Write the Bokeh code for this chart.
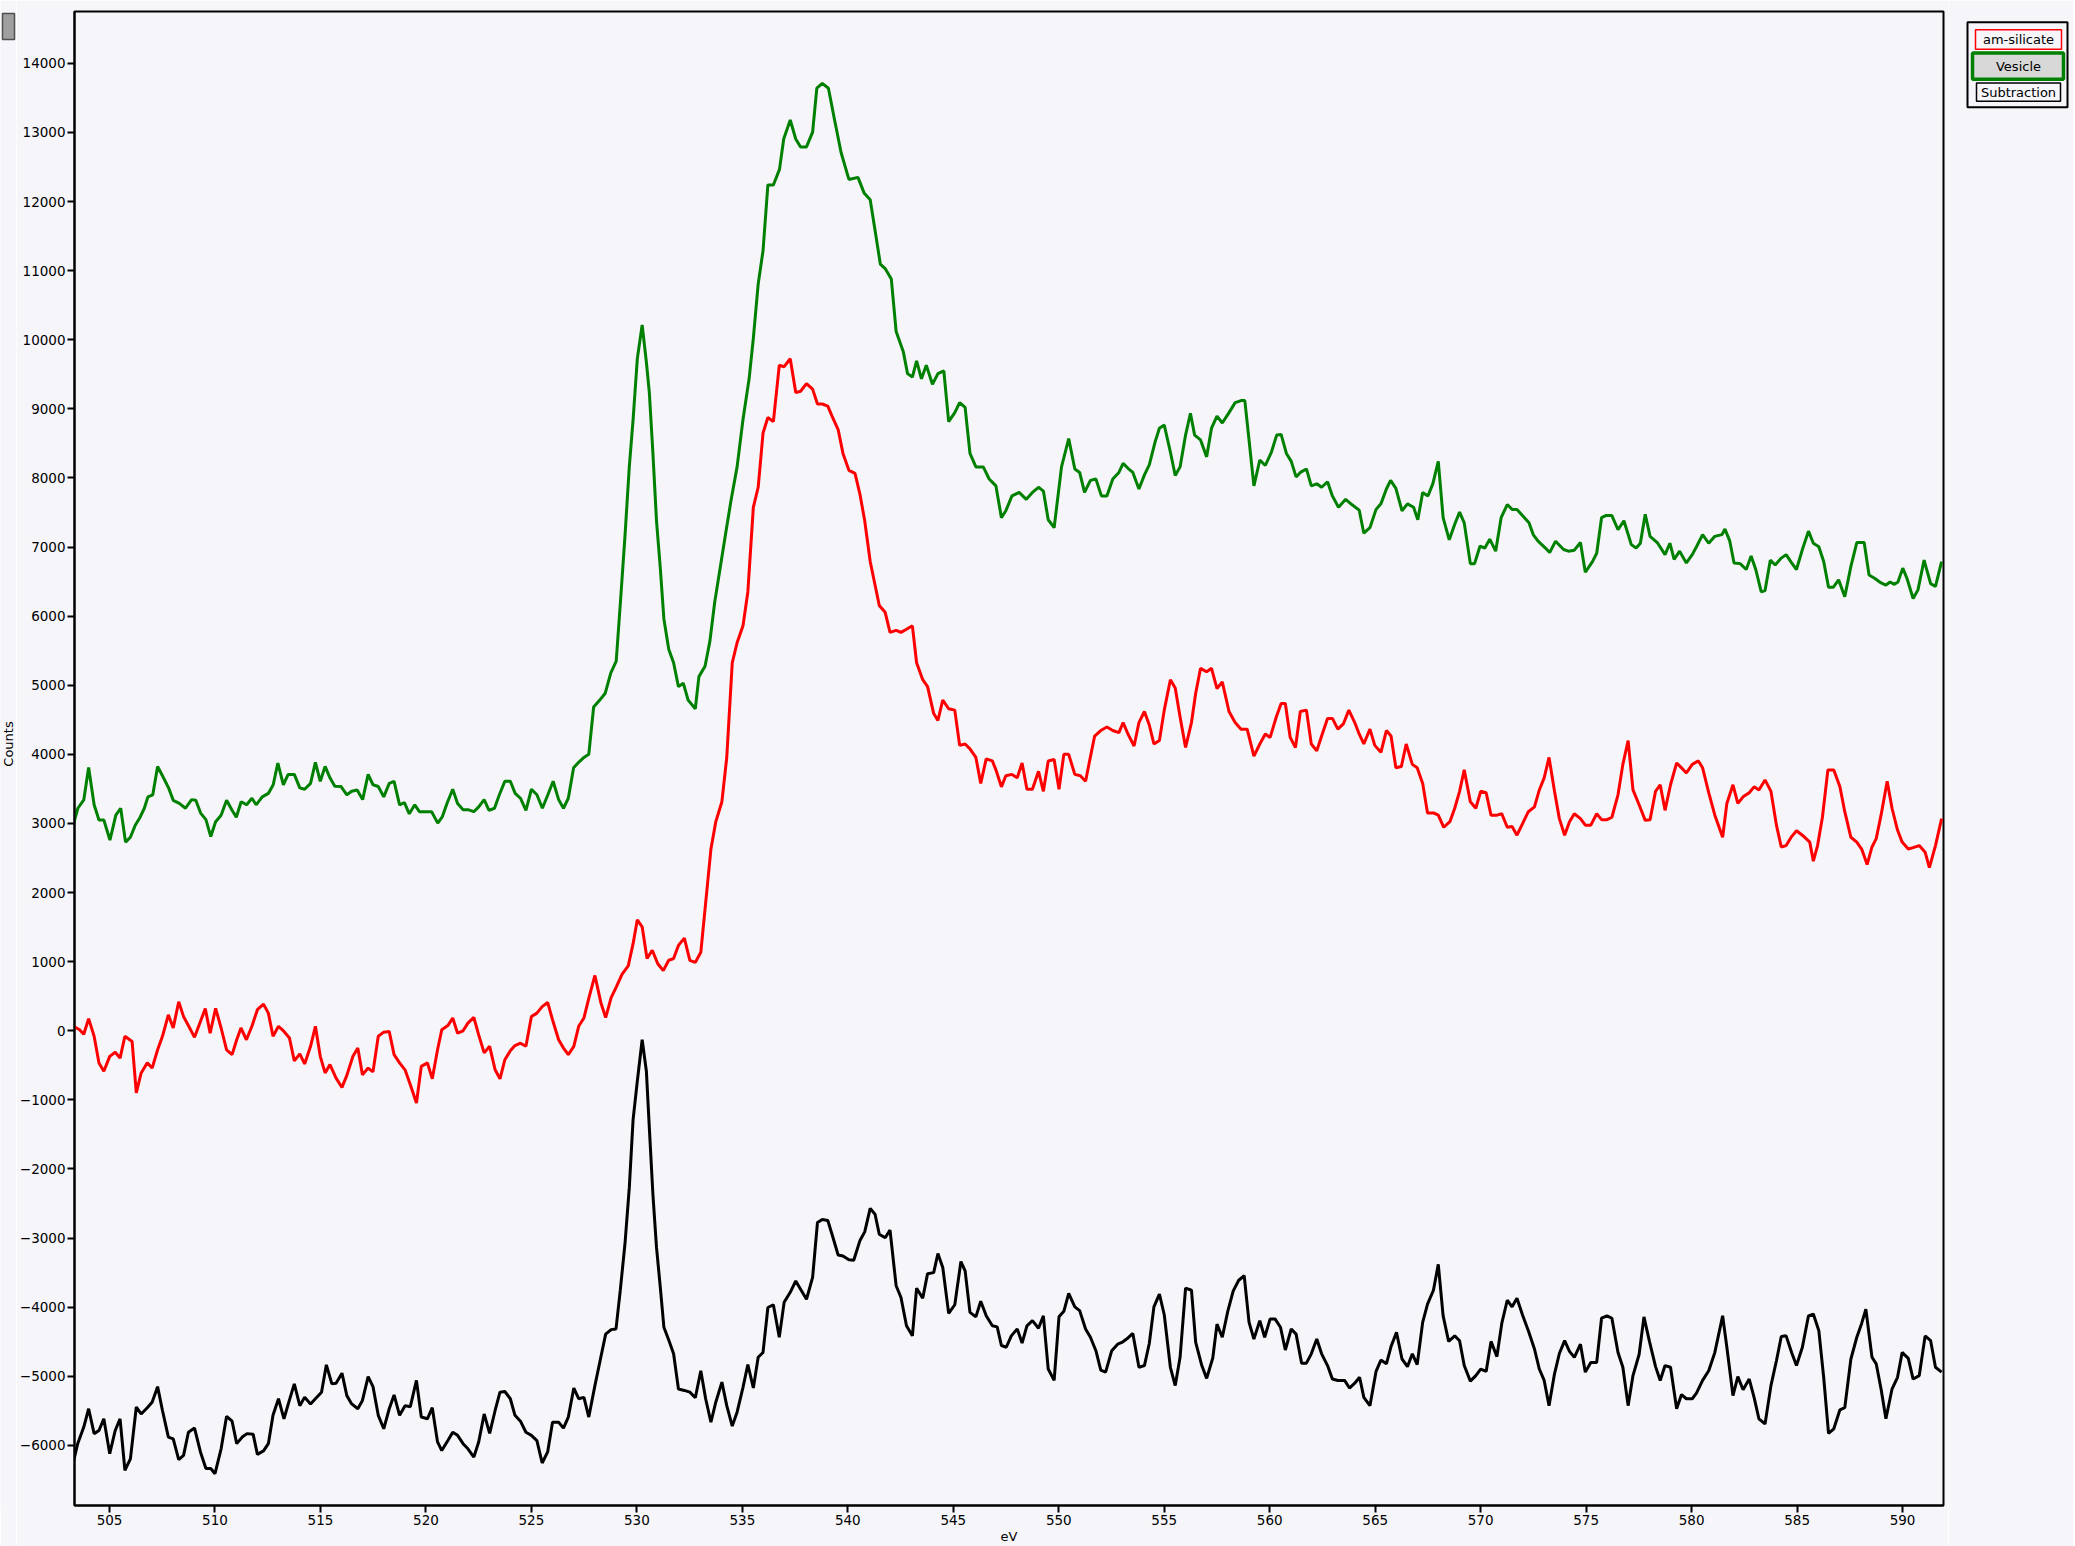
from bokeh.plotting import figure
from bokeh.layouts import row
from bokeh.models import Range1d, FixedTicker
from bokeh.embed import file_html
from bokeh.resources import INLINE
from bokeh.core.properties import value
import math

# ---------------- data ----------------
series_names = ["am-silicate", "Vesicle", "Subtraction"]
x_ticks = [505, 510, 515, 520, 525, 530, 535, 540, 545, 550, 555, 560, 565, 570, 575, 580, 585, 590]
y_ticks = [-6000, -5000, -4000, -3000, -2000, -1000, 0, 1000, 2000, 3000, 4000, 5000, 6000,
           7000, 8000, 9000, 10000, 11000, 12000, 13000, 14000]

green_ev = [
    503.30, 503.50, 503.78, 504.01, 504.27, 504.50, 504.73, 505.02, 505.30, 505.53,
    505.76, 505.99, 506.22, 506.45, 506.65, 506.82, 507.05, 507.28, 507.51, 507.80,
    508.02, 508.31, 508.60, 508.89, 509.09, 509.32, 509.57, 509.80, 510.03, 510.29,
    510.55, 510.81, 511.01, 511.24, 511.50, 511.75, 511.95, 512.24, 512.53, 512.76,
    512.98, 513.24, 513.47, 513.76, 514.02, 514.25, 514.53, 514.76, 514.99, 515.22,
    515.45, 515.68, 515.97, 516.25, 516.48, 516.74, 517.00, 517.26, 517.49, 517.74,
    518.00, 518.26, 518.49, 518.75, 518.98, 519.21, 519.47, 519.69, 519.98, 520.27,
    520.56, 520.78, 521.01, 521.27, 521.50, 521.76, 521.99, 522.27, 522.50, 522.76,
    522.99, 523.25, 523.48, 523.74, 524.00, 524.23, 524.48, 524.74, 525.00, 525.26,
    525.52, 525.78, 526.03, 526.29, 526.52, 526.75, 527.00, 527.24, 527.49, 527.72,
    527.95, 528.24, 528.50, 528.76, 529.02, 529.22, 529.44, 529.64, 529.82, 530.02,
    530.25, 530.45, 530.59, 530.76, 530.93, 531.11, 531.28, 531.51, 531.74, 531.97,
    532.20, 532.43, 532.77, 532.94, 533.23, 533.46, 533.69, 533.97, 534.20, 534.46,
    534.75, 535.03, 535.32, 535.52, 535.75, 535.98, 536.21, 536.47, 536.76, 536.96,
    537.27, 537.53, 537.76, 538.04, 538.33, 538.53, 538.79, 539.08, 539.39, 539.68,
    540.05, 540.48, 540.77, 541.06, 541.29, 541.54, 541.77, 542.06, 542.29, 542.63,
    542.83, 543.06, 543.26, 543.49, 543.72, 544.01, 544.27, 544.55, 544.78, 545.07,
    545.30, 545.56, 545.79, 546.07, 546.42, 546.70, 547.02, 547.28, 547.49, 547.78,
    548.12, 548.46, 548.75, 549.04, 549.27, 549.50, 549.78, 550.13, 550.47, 550.76,
    550.99, 551.22, 551.50, 551.76, 552.02, 552.28, 552.56, 552.85, 553.05, 553.28,
    553.51, 553.80, 554.06, 554.29, 554.57, 554.77, 555.00, 555.29, 555.52, 555.75,
    556.01, 556.24, 556.44, 556.72, 557.01, 557.24, 557.50, 557.75, 558.07, 558.36,
    558.64, 558.82, 559.25, 559.53, 559.79, 560.08, 560.33, 560.54, 560.79, 561.02,
    561.25, 561.45, 561.74, 561.97, 562.23, 562.46, 562.74, 562.97, 563.26, 563.60,
    563.89, 564.24, 564.46, 564.75, 565.04, 565.27, 565.53, 565.73, 565.98, 566.27,
    566.53, 566.82, 567.02, 567.25, 567.50, 567.73, 567.99, 568.22, 568.51, 568.77,
    569.00, 569.22, 569.51, 569.71, 569.97, 570.20, 570.43, 570.71, 570.97, 571.26,
    571.49, 571.72, 571.98, 572.29, 572.49, 572.72, 573.07, 573.27, 573.55, 573.93,
    574.16, 574.44, 574.73, 574.96, 575.30, 575.50, 575.73, 575.93, 576.22, 576.51,
    576.79, 577.14, 577.37, 577.57, 577.80, 578.03, 578.37, 578.74, 578.97, 579.17,
    579.43, 579.75, 580.03, 580.23, 580.52, 580.81, 581.10, 581.44, 581.58, 581.81,
    582.01, 582.30, 582.59, 582.82, 583.04, 583.30, 583.48, 583.73, 583.96, 584.25,
    584.48, 584.74, 584.97, 585.25, 585.54, 585.77, 586.03, 586.26, 586.49, 586.72,
    586.97, 587.26, 587.55, 587.83, 588.18, 588.41, 588.69, 588.98, 589.21, 589.41,
    589.61, 589.78, 590.01, 590.21, 590.50, 590.73, 591.02, 591.33, 591.56, 591.85,
]
green_counts = [
    3000, 3220, 3340, 3810, 3270, 3050, 3050, 2760, 3120, 3220,
    2730, 2800, 2975, 3090, 3220, 3385, 3415, 3825, 3690, 3515,
    3335, 3290, 3220, 3345, 3335, 3150, 3055, 2810, 3025, 3120,
    3335, 3190, 3090, 3315, 3270, 3365, 3270, 3385, 3435, 3560,
    3875, 3560, 3710, 3710, 3515, 3495, 3580, 3885, 3610, 3825,
    3660, 3540, 3535, 3415, 3465, 3485, 3345, 3710, 3560, 3535,
    3385, 3580, 3610, 3270, 3300, 3140, 3270, 3170, 3170, 3170,
    3005, 3100, 3300, 3495, 3290, 3200, 3200, 3170, 3240, 3345,
    3190, 3220, 3415, 3610, 3610, 3435, 3365, 3190, 3495, 3415,
    3220, 3415, 3610, 3345, 3220, 3365, 3805, 3885, 3955, 4000,
    4685, 4785, 4885, 5175, 5350, 6205, 7180, 8160, 8845, 9725,
    10215, 9675, 9235, 8355, 7380, 6695, 5960, 5520, 5325, 4980,
    5030, 4785, 4660, 5125, 5275, 5635, 6205, 6740, 7180, 7670,
    8160, 8845, 9435, 10020, 10805, 11290, 12240, 12240, 12465, 12905,
    13180, 12905, 12790, 12790, 13005, 13640, 13710, 13640, 13150, 12710,
    12320, 12350, 12125, 12025, 11585, 11095, 11030, 10880, 10120, 9825,
    9510, 9460, 9695, 9435, 9630, 9355, 9510, 9550, 8815, 8945,
    9090, 9020, 8355, 8160, 8160, 7985, 7885, 7425, 7525, 7740,
    7790, 7690, 7790, 7865, 7810, 7395, 7280, 8160, 8570, 8130,
    8080, 7790, 7965, 7985, 7740, 7740, 7985, 8080, 8210, 8140,
    8080, 7840, 8045, 8190, 8525, 8720, 8765, 8375, 8035, 8160,
    8620, 8935, 8620, 8550, 8305, 8720, 8895, 8795, 8945, 9090,
    9120, 9120, 7885, 8260, 8180, 8375, 8620, 8630, 8355, 8240,
    8015, 8080, 8130, 7885, 7915, 7865, 7945, 7740, 7575, 7690,
    7615, 7535, 7200, 7280, 7545, 7625, 7840, 7965, 7850, 7525,
    7625, 7575, 7395, 7790, 7740, 7915, 8240, 7425, 7105, 7330,
    7505, 7350, 6760, 6760, 7015, 6985, 7115, 6940, 7425, 7615,
    7545, 7545, 7455, 7350, 7180, 7085, 6985, 6920, 7085, 6965,
    6940, 6955, 7065, 6635, 6790, 6910, 7425, 7455, 7455, 7250,
    7380, 7035, 6985, 7055, 7475, 7155, 7065, 6890, 7055, 6820,
    6940, 6770, 6890, 7005, 7180, 7055, 7155, 7180, 7260, 7085,
    6770, 6760, 6675, 6870, 6675, 6350, 6370, 6810, 6740, 6840,
    6890, 6770, 6675, 6965, 7230, 7055, 7005, 6790, 6420, 6420,
    6525, 6280, 6720, 7065, 7065, 6595, 6545, 6480, 6450, 6495,
    6460, 6495, 6695, 6545, 6255, 6380, 6810, 6470, 6430, 6790,
]

red_ev = [
    503.29, 503.58, 503.78, 504.01, 504.27, 504.50, 504.73, 505.01, 505.27, 505.50,
    505.73, 506.07, 506.27, 506.50, 506.79, 507.02, 507.28, 507.51, 507.79, 508.02,
    508.28, 508.51, 508.80, 509.03, 509.31, 509.54, 509.77, 510.03, 510.29, 510.55,
    510.81, 511.03, 511.23, 511.49, 511.75, 512.01, 512.30, 512.53, 512.75, 513.01,
    513.27, 513.53, 513.76, 514.02, 514.25, 514.53, 514.76, 514.99, 515.22, 515.45,
    515.74, 516.02, 516.25, 516.54, 516.77, 516.99, 517.26, 517.49, 517.74, 518.00,
    518.26, 518.49, 518.75, 519.01, 519.26, 519.55, 519.78, 520.07, 520.30, 520.55,
    520.75, 521.04, 521.27, 521.50, 521.76, 521.99, 522.27, 522.50, 522.76, 523.02,
    523.28, 523.51, 523.74, 524.00, 524.22, 524.48, 524.74, 525.00, 525.26, 525.51,
    525.77, 526.00, 526.29, 526.52, 526.75, 527.01, 527.24, 527.49, 527.72, 528.01,
    528.29, 528.52, 528.78, 529.01, 529.30, 529.59, 529.82, 530.02, 530.25, 530.48,
    530.73, 530.99, 531.25, 531.51, 531.74, 531.97, 532.25, 532.51, 532.77, 533.03,
    533.26, 533.51, 533.74, 534.03, 534.26, 534.52, 534.75, 535.03, 535.26, 535.52,
    535.75, 535.98, 536.21, 536.47, 536.75, 536.98, 537.27, 537.53, 537.76, 538.04,
    538.33, 538.56, 538.79, 539.05, 539.25, 539.54, 539.77, 540.05, 540.34, 540.57,
    540.80, 541.06, 541.29, 541.49, 541.77, 542.00, 542.29, 542.52, 542.78, 543.06,
    543.26, 543.55, 543.78, 544.07, 544.27, 544.50, 544.78, 545.07, 545.30, 545.56,
    545.79, 546.07, 546.30, 546.56, 546.85, 547.02, 547.28, 547.49, 547.78, 548.03,
    548.26, 548.49, 548.75, 549.04, 549.27, 549.50, 549.78, 550.01, 550.24, 550.47,
    550.76, 551.02, 551.27, 551.48, 551.70, 551.99, 552.28, 552.56, 552.85, 553.05,
    553.28, 553.57, 553.80, 554.06, 554.29, 554.51, 554.77, 555.00, 555.29, 555.52,
    555.75, 556.01, 556.29, 556.49, 556.72, 557.01, 557.24, 557.50, 557.75, 558.07,
    558.36, 558.64, 558.93, 559.25, 559.53, 559.79, 560.02, 560.31, 560.54, 560.74,
    560.97, 561.22, 561.45, 561.74, 561.97, 562.23, 562.46, 562.74, 562.97, 563.23,
    563.49, 563.75, 564.03, 564.24, 564.46, 564.75, 564.98, 565.27, 565.53, 565.75,
    565.98, 566.24, 566.47, 566.76, 566.99, 567.25, 567.48, 567.79, 567.99, 568.25,
    568.54, 568.77, 569.00, 569.22, 569.51, 569.77, 570.00, 570.26, 570.49, 570.77,
    571.00, 571.26, 571.49, 571.72, 571.98, 572.26, 572.55, 572.78, 573.01, 573.24,
    573.50, 573.73, 573.98, 574.21, 574.44, 574.73, 574.96, 575.22, 575.50, 575.73,
    575.99, 576.22, 576.51, 576.74, 576.99, 577.22, 577.51, 577.80, 578.03, 578.29,
    578.51, 578.74, 579.00, 579.29, 579.52, 579.75, 580.03, 580.32, 580.52, 580.81,
    581.10, 581.47, 581.67, 581.96, 582.19, 582.44, 582.73, 582.96, 583.19, 583.48,
    583.76, 584.02, 584.25, 584.48, 584.74, 584.97, 585.25, 585.60, 585.77, 585.97,
    586.20, 586.46, 586.74, 587.03, 587.26, 587.55, 587.83, 588.06, 588.32, 588.55,
    588.75, 588.98, 589.27, 589.50, 589.76, 589.98, 590.27, 590.50, 590.79, 591.07,
    591.27, 591.56, 591.85,
]
red_counts = [
    65, 15, -50, 175, -80, -465, -585, -370, -310, -395,
    -80, -155, -900, -610, -465, -540, -275, -80, 230, 40,
    420, 205, 40, -95, 135, 320, -35, 325, 40, -275,
    -345, -130, 40, -130, 65, 305, 385, 255, -80, 65,
    -10, -105, -435, -335, -480, -225, 65, -370, -610, -490,
    -685, -820, -645, -370, -250, -635, -540, -595, -80, -20,
    -10, -345, -465, -565, -780, -1045, -515, -465, -695, -275,
    15, 75, 185, -35, 0, 110, 195, -60, -320, -225,
    -565, -695, -420, -290, -215, -180, -225, 205, 255, 350,
    410, 160, -130, -250, -345, -225, 65, 185, 470, 800,
    410, 190, 480, 625, 820, 940, 1260, 1605, 1505, 1045,
    1165, 970, 870, 1020, 1045, 1235, 1340, 1020, 990, 1135,
    1850, 2630, 3025, 3315, 3955, 5325, 5615, 5860, 6350, 7575,
    7865, 8650, 8875, 8815, 9630, 9610, 9725, 9235, 9255, 9365,
    9285, 9070, 9070, 9040, 8895, 8700, 8355, 8110, 8065, 7770,
    7380, 6790, 6450, 6155, 6055, 5765, 5795, 5765, 5810, 5860,
    5325, 5080, 4980, 4590, 4490, 4785, 4660, 4640, 4130, 4150,
    4080, 3955, 3580, 3935, 3905, 3775, 3530, 3690, 3710, 3660,
    3875, 3495, 3495, 3755, 3465, 3905, 3925, 3495, 4000, 4000,
    3710, 3690, 3610, 3935, 4265, 4345, 4395, 4345, 4315, 4460,
    4295, 4120, 4460, 4620, 4425, 4150, 4200, 4640, 5080, 4960,
    4540, 4100, 4460, 4885, 5245, 5195, 5245, 4950, 5050, 4620,
    4460, 4365, 4365, 3975, 4150, 4295, 4245, 4540, 4735, 4735,
    4245, 4100, 4620, 4640, 4150, 4050, 4265, 4520, 4520, 4365,
    4440, 4640, 4460, 4295, 4150, 4365, 4130, 4030, 4345, 4265,
    3805, 3825, 4150, 3855, 3805, 3580, 3150, 3150, 3120, 2945,
    3025, 3220, 3465, 3775, 3315, 3220, 3465, 3445, 3120, 3120,
    3140, 2945, 2955, 2830, 2995, 3170, 3240, 3485, 3660, 3955,
    3465, 3070, 2830, 3025, 3140, 3070, 2975, 2975, 3140, 3055,
    3055, 3090, 3415, 3855, 4200, 3485, 3270, 3045, 3055, 3465,
    3560, 3190, 3560, 3875, 3805, 3730, 3855, 3905, 3805, 3445,
    3120, 2800, 3290, 3560, 3290, 3385, 3445, 3530, 3485, 3630,
    3465, 2975, 2660, 2680, 2810, 2895, 2830, 2730, 2455, 2680,
    3090, 3775, 3775, 3530, 3170, 2800, 2730, 2630, 2405, 2660,
    2780, 3120, 3610, 3220, 2905, 2730, 2630, 2650, 2680, 2585,
    2360, 2680, 3070,
]

black_ev = [
    503.29, 503.49, 503.78, 504.01, 504.27, 504.50, 504.73, 505.01, 505.27, 505.50,
    505.73, 505.99, 506.27, 506.50, 506.79, 507.02, 507.28, 507.51, 507.79, 508.02,
    508.28, 508.51, 508.74, 509.03, 509.31, 509.57, 509.80, 510.00, 510.29, 510.55,
    510.81, 511.03, 511.29, 511.52, 511.81, 512.01, 512.30, 512.53, 512.75, 513.01,
    513.27, 513.50, 513.76, 514.02, 514.25, 514.53, 514.76, 515.05, 515.28, 515.54,
    515.74, 516.02, 516.25, 516.48, 516.77, 516.99, 517.26, 517.49, 517.74, 518.00,
    518.26, 518.49, 518.75, 519.01, 519.26, 519.55, 519.78, 520.07, 520.30, 520.55,
    520.75, 521.04, 521.27, 521.50, 521.76, 521.99, 522.27, 522.50, 522.76, 523.02,
    523.28, 523.51, 523.74, 524.00, 524.22, 524.48, 524.74, 525.00, 525.26, 525.51,
    525.77, 526.00, 526.29, 526.52, 526.75, 527.01, 527.24, 527.49, 527.72, 528.01,
    528.29, 528.52, 528.78, 529.01, 529.21, 529.44, 529.64, 529.82, 530.02, 530.25,
    530.45, 530.59, 530.76, 530.93, 531.11, 531.28, 531.51, 531.74, 531.97, 532.25,
    532.51, 532.77, 533.03, 533.26, 533.51, 533.74, 534.03, 534.26, 534.52, 534.75,
    535.03, 535.26, 535.52, 535.75, 535.98, 536.21, 536.47, 536.75, 536.98, 537.27,
    537.53, 537.76, 538.04, 538.33, 538.56, 538.79, 539.05, 539.25, 539.54, 539.77,
    540.05, 540.28, 540.57, 540.80, 541.06, 541.29, 541.49, 541.77, 542.00, 542.29,
    542.52, 542.78, 543.06, 543.26, 543.55, 543.78, 544.07, 544.27, 544.50, 544.78,
    545.07, 545.36, 545.56, 545.79, 546.07, 546.30, 546.56, 546.85, 547.08, 547.28,
    547.51, 547.75, 548.03, 548.26, 548.49, 548.75, 549.04, 549.27, 549.50, 549.78,
    550.01, 550.24, 550.47, 550.76, 550.99, 551.27, 551.50, 551.76, 551.99, 552.22,
    552.51, 552.79, 552.99, 553.28, 553.51, 553.80, 554.06, 554.29, 554.51, 554.77,
    555.00, 555.29, 555.52, 555.75, 556.01, 556.29, 556.49, 556.78, 557.01, 557.30,
    557.50, 557.75, 558.01, 558.27, 558.53, 558.79, 559.02, 559.25, 559.53, 559.76,
    560.02, 560.25, 560.51, 560.74, 561.02, 561.25, 561.51, 561.74, 561.97, 562.23,
    562.46, 562.74, 562.97, 563.23, 563.55, 563.78, 564.03, 564.26, 564.46, 564.75,
    565.04, 565.27, 565.53, 565.75, 566.01, 566.27, 566.53, 566.76, 566.99, 567.25,
    567.48, 567.76, 567.99, 568.22, 568.48, 568.77, 569.00, 569.22, 569.51, 569.77,
    570.00, 570.26, 570.49, 570.77, 571.00, 571.26, 571.49, 571.72, 571.98, 572.26,
    572.55, 572.78, 573.01, 573.24, 573.50, 573.73, 573.98, 574.21, 574.44, 574.73,
    574.96, 575.22, 575.50, 575.73, 575.99, 576.22, 576.51, 576.74, 576.99, 577.22,
    577.51, 577.74, 578.00, 578.29, 578.51, 578.74, 579.00, 579.29, 579.52, 579.75,
    580.03, 580.23, 580.52, 580.81, 581.10, 581.47, 581.67, 581.96, 582.19, 582.44,
    582.73, 582.96, 583.19, 583.48, 583.76, 584.02, 584.25, 584.48, 584.74, 584.97,
    585.25, 585.54, 585.77, 586.03, 586.26, 586.49, 586.74, 587.03, 587.26, 587.55,
    587.83, 588.06, 588.26, 588.55, 588.75, 588.98, 589.21, 589.50, 589.76, 589.98,
    590.27, 590.50, 590.79, 591.07, 591.33, 591.56, 591.85,
]
black_counts = [
    -6240, -5975, -5735, -5470, -5830, -5785, -5615, -6120, -5785, -5615,
    -6360, -6195, -5445, -5545, -5455, -5375, -5150, -5495, -5880, -5905,
    -6205, -6145, -5810, -5750, -6095, -6335, -6335, -6410, -6050, -5580,
    -5650, -5975, -5880, -5830, -5840, -6130, -6080, -5975, -5565, -5325,
    -5615, -5375, -5110, -5425, -5305, -5400, -5325, -5230, -4835, -5110,
    -5100, -4955, -5280, -5400, -5470, -5350, -5005, -5150, -5565, -5760,
    -5470, -5270, -5565, -5425, -5440, -5060, -5590, -5615, -5455, -5950,
    -6075, -5930, -5810, -5855, -5975, -6050, -6170, -5950, -5545, -5825,
    -5495, -5230, -5220, -5325, -5565, -5650, -5810, -5855, -5930, -6255,
    -6095, -5665, -5665, -5750, -5590, -5170, -5325, -5305, -5590, -5135,
    -4725, -4390, -4325, -4315, -3765, -3065, -2270, -1285, -730, -130,
    -585, -1405, -2370, -3135, -3715, -4290, -4475, -4675, -5185, -5205,
    -5230, -5310, -4920, -5325, -5665, -5375, -5085, -5425, -5720, -5520,
    -5160, -4830, -5170, -4725, -4655, -4005, -3965, -4435, -3930, -3785,
    -3620, -3740, -3885, -3570, -2775, -2730, -2745, -2945, -3245, -3260,
    -3315, -3320, -3040, -2910, -2570, -2655, -2945, -2995, -2885, -3690,
    -3860, -4270, -4415, -3725, -3870, -3515, -3500, -3225, -3425, -4090,
    -3965, -3340, -3475, -4075, -4140, -3915, -4125, -4270, -4285, -4555,
    -4580, -4415, -4315, -4520, -4270, -4195, -4305, -4125, -4895, -5060,
    -4140, -4060, -3800, -3995, -4050, -4315, -4435, -4630, -4910, -4940,
    -4630, -4535, -4510, -4445, -4380, -4870, -4845, -4525, -3995, -3810,
    -4110, -4870, -5135, -4725, -3725, -3755, -4510, -4845, -5030, -4735,
    -4245, -4435, -4060, -3765, -3610, -3545, -4220, -4460, -4195, -4435,
    -4170, -4170, -4290, -4620, -4315, -4390, -4810, -4810, -4675, -4460,
    -4675, -4845, -5040, -5060, -5060, -5170, -5100, -5015, -5305, -5425,
    -4930, -4765, -4820, -4570, -4365, -4750, -4860, -4675, -4830, -4220,
    -3955, -3755, -3380, -4125, -4495, -4415, -4485, -4845, -5070, -4990,
    -4895, -4930, -4495, -4715, -4235, -3900, -3995, -3870, -4110, -4340,
    -4605, -4895, -5060, -5425, -4965, -4670, -4485, -4640, -4725, -4535,
    -4940, -4800, -4800, -4160, -4125, -4160, -4655, -4870, -5425, -4990,
    -4685, -4140, -4495, -4860, -5060, -4845, -4870, -5470, -5265, -5325,
    -5325, -5245, -5060, -4920, -4655, -4125, -4580, -5280, -5005, -5195,
    -5040, -5305, -5615, -5690, -5135, -4775, -4425, -4415, -4655, -4845,
    -4580, -4125, -4100, -4340, -5015, -5825, -5760, -5485, -5455, -4750,
    -4435, -4235, -4030, -4725, -4820, -5185, -5615, -5185, -5015, -4655,
    -4740, -5040, -4990, -4415, -4485, -4870, -4940,
]

assert len(green_ev) == len(green_counts), (len(green_ev), len(green_counts))
assert len(red_ev) == len(red_counts), (len(red_ev), len(red_counts))
assert len(black_ev) == len(black_counts), (len(black_ev), len(black_counts))

# ---------------- styling ----------------
BG = "#f5f5fa"
FONT = "DejaVu Sans"
GREEN = "#008000"
RED = "#ff0000"
BLACK = "#000000"
H = 1546

X0, X1 = 503.34, 591.94
Y0, Y1 = -6870, 14750

# ---- thin left strip: y-axis title and the small grey handle ----
LS = 16
left = figure(width=LS, height=H, x_range=Range1d(0, LS), y_range=Range1d(H, 0),
              output_backend="svg", toolbar_location=None,
              x_axis_location=None, y_axis_location=None,
              background_fill_color=BG, border_fill_color=BG, min_border=0)
left.grid.visible = False
left.outline_line_color = None
left.quad(left=[2], right=[14], top=[2], bottom=[29],
          fill_color="#a0a0a0", line_color="#505050", line_width=1.5)
left.text(x=[8], y=[758], text=["Counts"], angle=math.pi / 2,
          text_align="center", text_baseline="middle",
          text_font=value(FONT), text_font_size="13px", text_color="black")

# ---- main plot ----
p = figure(width=1932, height=H,
           x_range=Range1d(X0, X1), y_range=Range1d(Y0, Y1),
           output_backend="svg", toolbar_location=None,
           background_fill_color=BG, border_fill_color=BG,
           min_border_top=11, min_border_right=5, min_border_left=56, min_border_bottom=41,
           x_axis_label="eV")
p.grid.visible = False
p.outline_line_color = "black"
p.outline_line_width = 2

for ax in (p.xaxis[0], p.yaxis[0]):
    ax.axis_line_width = 2
    ax.axis_line_color = "black"
    ax.major_tick_line_width = 2
    ax.major_tick_line_color = "black"
    ax.major_tick_out = 7
    ax.major_tick_in = 0
    ax.minor_tick_line_color = None
    ax.major_label_text_font = FONT
    ax.major_label_text_font_size = "13.5px"
    ax.major_label_text_color = "black"
    ax.axis_label_text_font = FONT
    ax.axis_label_text_font_size = "13px"
    ax.axis_label_text_font_style = "normal"
    ax.axis_label_text_color = "black"
    ax.major_label_standoff = 2
    ax.axis_label_standoff = 1

p.xaxis[0].ticker = FixedTicker(ticks=x_ticks)
p.yaxis[0].ticker = FixedTicker(ticks=y_ticks)

p.line(red_ev, red_counts, line_color=RED, line_width=3)
p.line(green_ev, green_counts, line_color=GREEN, line_width=3)
p.line(black_ev, black_counts, line_color=BLACK, line_width=3)

# ---- legend panel (boxed labels) ----
LW = 125
lg = figure(width=LW, height=H, x_range=Range1d(0, LW), y_range=Range1d(H, 0),
            output_backend="svg", toolbar_location=None,
            x_axis_location=None, y_axis_location=None,
            background_fill_color=BG, border_fill_color=BG, min_border=0)
lg.grid.visible = False
lg.outline_line_color = None

lg.quad(left=[19], right=[119], top=[11], bottom=[99],
        fill_color=BG, line_color="black", line_width=2)
lg.quad(left=[27, 24, 28], right=[113, 115, 112], top=[19, 43, 74], bottom=[39, 70, 93],
        fill_color=[BG, "#d8d8d8", BG], line_color=[RED, GREEN, BLACK],
        line_width=[1.5, 3.5, 1.5])
lg.text(x=[70, 70, 70], y=[29, 56.5, 83.5], text=series_names,
        text_align="center", text_baseline="middle",
        text_font=value(FONT), text_font_size="13px", text_color="black")

layout = row(left, p, lg)
open("out.html", "w").write(file_html(layout, INLINE))
